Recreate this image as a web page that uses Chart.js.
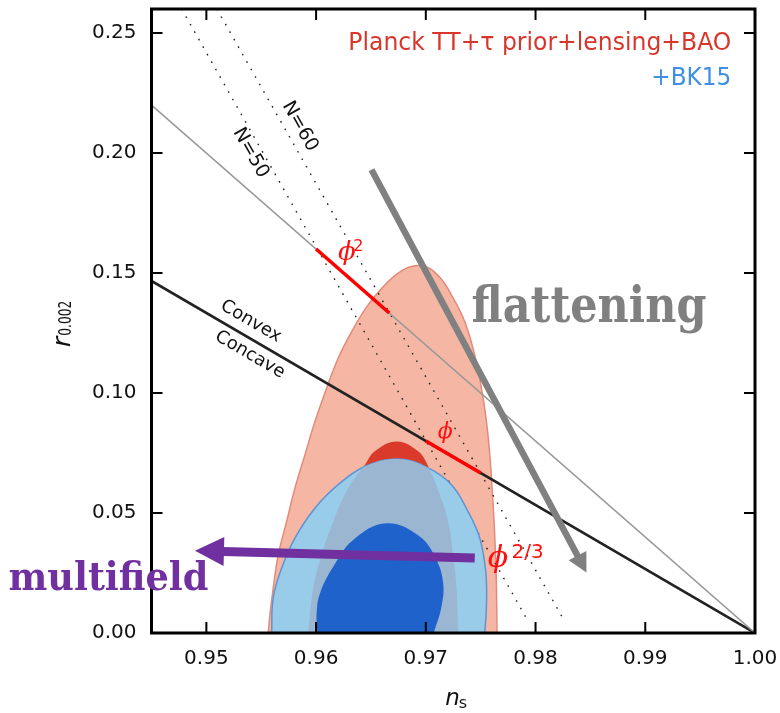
<!DOCTYPE html>
<html><head><meta charset="utf-8">
<script src="https://cdn.jsdelivr.net/npm/chart.js@4/dist/chart.umd.min.js"></script>
<style>html,body{margin:0;padding:0;background:#fff;} canvas{display:block;}</style>
</head><body>
<canvas id="c" width="780" height="713"></canvas>
<script>
// ---------- axis ticks ----------
const nsTicks = [0.95, 0.96, 0.97, 0.98, 0.99, 1.00];
const nsTickLabels = ['0.95', '0.96', '0.97', '0.98', '0.99', '1.00'];
const rTicks = [0.00, 0.05, 0.10, 0.15, 0.20, 0.25];
const rTickLabels = ['0.00', '0.05', '0.10', '0.15', '0.20', '0.25'];

// ---------- contours (n_s, r) ----------
const planck95Ns = [0.95564, 0.95579, 0.95609, 0.95655, 0.95731, 0.95807, 0.95898, 0.95989, 0.96096, 0.96201, 0.96323, 0.96474, 0.96657, 0.96781, 0.96900,
                    0.97018, 0.97137, 0.97234, 0.97355, 0.97446, 0.97507, 0.97553, 0.97583, 0.97604, 0.97622, 0.97635, 0.97644, 0.97649];
const planck95R  = [0.0000, 0.0075, 0.0186, 0.0325, 0.0464, 0.0603, 0.0742, 0.0880, 0.1020, 0.1145, 0.1255, 0.1367, 0.1464, 0.1510, 0.1530,
                    0.1523, 0.1477, 0.1408, 0.1297, 0.1158, 0.1020, 0.0880, 0.0742, 0.0603, 0.0464, 0.0325, 0.0186, 0.0000];
const planck68Ns = [0.95928, 0.95974, 0.96050, 0.96156, 0.96292, 0.96444, 0.96535, 0.96733, 0.96930, 0.97021, 0.97128, 0.97203, 0.97249, 0.97280, 0.97294];
const planck68R  = [0.0000, 0.0186, 0.0325, 0.0464, 0.0603, 0.0700, 0.0757, 0.0798, 0.0757, 0.0695, 0.0576, 0.0464, 0.0325, 0.0186, 0.0000];
const bk95Ns = [0.95595, 0.95609, 0.95686, 0.95807, 0.95989, 0.96201, 0.96444, 0.96748, 0.97021, 0.97234, 0.97385, 0.97492, 0.97546, 0.97553, 0.97537];
const bk95R  = [0.0000, 0.0145, 0.0270, 0.0395, 0.0520, 0.0618, 0.0694, 0.0725, 0.0688, 0.0618, 0.0506, 0.0395, 0.0255, 0.0117, 0.0000];
const bk68Ns = [0.96012, 0.96005, 0.96035, 0.96156, 0.96338, 0.96642, 0.96945, 0.97097, 0.97158, 0.97143, 0.97073];
const bk68R  = [0.0000, 0.0082, 0.0165, 0.0276, 0.0388, 0.0457, 0.0402, 0.0304, 0.0207, 0.0110, 0.0000];

// ---------- model lines ----------
const n50Ns = [0.94775, 0.97932];   const n50R = [0.2600, 0.0049];
const n60Ns = [0.95096, 0.98266];   const n60R = [0.2600, 0.0048];
const grayLineNs = [0.945, 1.000];  const grayLineR = [0.2200, 0.0000];
const convexNs = [0.945, 1.000];    const convexR = [0.14667, 0.0000];
const phi2SegNs = [0.9600, 0.96667]; const phi2SegR = [0.1600, 0.13333];
const phiSegNs = [0.9700, 0.9750];  const phiSegR = [0.0800, 0.06667];

// ---------- arrows ----------
const flatArrowNs = [0.96505, 0.98464];  const flatArrowR = [0.19304, 0.02525];
const multiArrowNs = [0.97446, 0.94896]; const multiArrowR = [0.03125, 0.0343];

const pts = (xs, ys) => xs.map((x, i) => ({x: x, y: ys[i]}));

const datasets = [
  {id:'p95', data: pts(planck95Ns, planck95R), polyFill:'#F5B7A3', borderColor:'#E38A7C', borderWidth:1.5, tension:0.4, order:10},
  {id:'p68', data: pts(planck68Ns, planck68R), polyFill:'#D93A2A', borderWidth:0, tension:0.4, order:9},
  {id:'n50', data: pts(n50Ns, n50R), borderColor:'#222', borderWidth:1.4, borderDash:[1.6, 7], tension:0, order:8},
  {id:'n60', data: pts(n60Ns, n60R), borderColor:'#222', borderWidth:1.4, borderDash:[1.6, 7], tension:0, order:8},
  {id:'gray', data: pts(grayLineNs, grayLineR), borderColor:'#9a9a9a', borderWidth:1.6, tension:0, order:7},
  {id:'conv', data: pts(convexNs, convexR), borderColor:'#222', borderWidth:2.6, tension:0, order:7},
  {id:'phi2', data: pts(phi2SegNs, phi2SegR), borderColor:'#FF0000', borderWidth:3.6, tension:0, order:6},
  {id:'phi', data: pts(phiSegNs, phiSegR), borderColor:'#FF0000', borderWidth:3.6, tension:0, order:6},
  {id:'b95', data: pts(bk95Ns, bk95R), polyFill:'#99CCE9', borderColor:'#5E93D4', borderWidth:1.5, tension:0.4, order:5},
  {id:'b68', data: pts(bk68Ns, bk68R), polyFill:'#2062CB', borderWidth:0, tension:0.4, order:4}
].map(d => Object.assign({showLine:true, pointRadius:0, fill:false}, d));

function dsIndex(chart, id) { return chart.data.datasets.findIndex(d => d.id === id); }

function txt(ctx, s, x, y, o) {
  ctx.save();
  ctx.font = o.font; ctx.fillStyle = o.color || '#000';
  ctx.textAlign = o.align || 'left'; ctx.textBaseline = o.base || 'alphabetic';
  ctx.translate(x, y);
  if (o.rot) ctx.rotate(o.rot);
  if (o.fit) { const w = ctx.measureText(s).width; ctx.scale(o.fit / w, 1); }
  ctx.fillText(s, 0, 0);
  ctx.restore();
}

function arrow(ctx, x0, y0, x1, y1, width, headLen, headHalf, color) {
  const dx = x1 - x0, dy = y1 - y0, L = Math.hypot(dx, dy);
  const ux = dx / L, uy = dy / L, px = -uy, py = ux;
  const bx = x1 - ux * headLen, by = y1 - uy * headLen;
  ctx.save();
  ctx.strokeStyle = color; ctx.fillStyle = color; ctx.lineWidth = width; ctx.lineCap = 'butt';
  ctx.beginPath(); ctx.moveTo(x0, y0); ctx.lineTo(bx + ux, by + uy); ctx.stroke();
  ctx.beginPath(); ctx.moveTo(x1, y1);
  ctx.lineTo(bx + px * headHalf, by + py * headHalf);
  ctx.lineTo(bx - px * headHalf, by - py * headHalf);
  ctx.closePath(); ctx.fill();
  ctx.restore();
}

const SANS = '"DejaVu Sans"';
const SERIF = '"DejaVu Serif"';

const polyPlugin = {
  id: 'poly',
  beforeDatasetDraw(chart, args) {
    const ds = chart.data.datasets[args.index];
    if (!ds.polyFill) return;
    const ctx = chart.ctx, a = chart.chartArea;
    ctx.save();
    ctx.beginPath(); ctx.rect(a.left, a.top, a.right - a.left, a.bottom - a.top); ctx.clip();
    ctx.beginPath(); args.meta.dataset.path(ctx); ctx.closePath();
    ctx.fillStyle = ds.polyFill; ctx.fill();
    ctx.restore();
  },
  afterDatasetDraw(chart, args) {
    const ds = chart.data.datasets[args.index];
    if (ds.id !== 'b95') return;
    // Planck 68% region seen through the BK15 95% region
    const ctx = chart.ctx, a = chart.chartArea;
    const p68 = chart.getDatasetMeta(dsIndex(chart, 'p68')).dataset;
    ctx.save();
    ctx.beginPath(); ctx.rect(a.left, a.top, a.right - a.left, a.bottom - a.top); ctx.clip();
    ctx.beginPath(); args.meta.dataset.path(ctx); ctx.closePath(); ctx.clip();
    ctx.beginPath(); p68.path(ctx); ctx.closePath();
    ctx.fillStyle = '#9BB6D1'; ctx.fill();
    ctx.restore();
  }
};

const decorPlugin = {
  id: 'decor',
  afterDraw(chart) {
    const ctx = chart.ctx, a = chart.chartArea;
    const sx = chart.scales.x, sy = chart.scales.y;
    const X = v => sx.getPixelForValue(v), Y = v => sy.getPixelForValue(v);
    const ang = (xs, ys) => Math.atan2(Y(ys[1]) - Y(ys[0]), X(xs[1]) - X(xs[0]));

    // frame + inward ticks
    ctx.save();
    ctx.strokeStyle = '#000'; ctx.lineWidth = 2;
    ctx.beginPath();
    nsTicks.forEach(v => { const p = X(v); ctx.moveTo(p, a.bottom); ctx.lineTo(p, a.bottom - 11); ctx.moveTo(p, a.top); ctx.lineTo(p, a.top + 11); });
    rTicks.forEach(v => { const p = Y(v); ctx.moveTo(a.left, p); ctx.lineTo(a.left + 11, p); ctx.moveTo(a.right, p); ctx.lineTo(a.right - 11, p); });
    ctx.stroke();
    ctx.lineWidth = 3;
    ctx.strokeRect(a.left, a.top, a.right - a.left, a.bottom - a.top);
    ctx.restore();

    // arrows
    arrow(ctx, X(flatArrowNs[0]), Y(flatArrowR[0]), X(flatArrowNs[1]), Y(flatArrowR[1]), 6.5, 19, 10, '#808080');
    arrow(ctx, X(multiArrowNs[0]), Y(multiArrowR[0]), X(multiArrowNs[1]), Y(multiArrowR[1]), 9, 29, 14.5, '#7030A0');

    // legend texts
    txt(ctx, 'Planck TT+τ prior+lensing+BAO', X(0.99784), Y(0.24304), {font:'24px ' + SANS, color:'#D9362B', align:'right', fit:383});
    txt(ctx, '+BK15', X(0.99784), Y(0.22830), {font:'24px ' + SANS, color:'#3F8FE6', align:'right', fit:80});

    // N labels along dotted lines
    const aN = ang(n50Ns, n50R);
    txt(ctx, 'N=50', X(0.95403), Y(0.2000), {font:'19px ' + SANS, color:'#111', align:'center', base:'middle', rot:aN});
    txt(ctx, 'N=60', X(0.95852), Y(0.21108), {font:'19px ' + SANS, color:'#111', align:'center', base:'middle', rot:aN});

    // convex / concave
    const aC = ang(convexNs, convexR);
    txt(ctx, 'Convex', X(0.95406), Y(0.12983), {font:'18px ' + SANS, color:'#111', align:'center', base:'middle', rot:aC});
    txt(ctx, 'Concave', X(0.95397), Y(0.11596), {font:'18px ' + SANS, color:'#111', align:'center', base:'middle', rot:aC});

    // phi labels
    txt(ctx, 'ϕ', X(0.96199), Y(0.15533), {font:'italic 26px ' + SERIF, color:'#FF1010'});
    txt(ctx, '2', X(0.96338), Y(0.15900), {font:'16px ' + SANS, color:'#FF1010'});
    txt(ctx, 'ϕ', X(0.97109), Y(0.08117), {font:'italic 22px ' + SERIF, color:'#FF1010'});
    txt(ctx, 'ϕ', X(0.97565), Y(0.02763), {font:'italic 30px ' + SERIF, color:'#FF1010'});
    txt(ctx, '2/3', X(0.97781), Y(0.03138), {font:'20px ' + SANS, color:'#FF1010'});

    // annotation words
    txt(ctx, 'flattening', X(0.97416), Y(0.12942), {font:'bold 50px ' + SERIF, color:'#808080', fit:235});
    txt(ctx, 'multifield', X(0.93196), Y(0.01775), {font:'bold 40px ' + SERIF, color:'#7030A0', fit:200});

    // axis titles
    ctx.save();
    ctx.translate(a.left - 81.5, (a.top + a.bottom) / 2 + 26);
    ctx.rotate(-Math.PI / 2);
    ctx.fillStyle = '#111';
    ctx.font = 'italic 25px ' + SANS; ctx.textBaseline = 'alphabetic'; ctx.textAlign = 'left';
    ctx.fillText('r', 0, 0);
    const rw = ctx.measureText('r').width;
    txt(ctx, '0.002', rw + 1, 1, {font:'18px ' + SANS, color:'#111', fit:35});
    ctx.restore();
    const cx = (a.left + a.right) / 2;
    txt(ctx, 'n', cx - 8, a.bottom + 72, {font:'italic 23px ' + SANS, color:'#111'});
    txt(ctx, 's', cx + 5.5, a.bottom + 75, {font:'16px ' + SANS, color:'#111'});
  }
};

new Chart(document.getElementById('c'), {
  type: 'scatter',
  data: { datasets: datasets },
  options: {
    responsive: false, animation: false, devicePixelRatio: 1, events: [],
    layout: { padding: { left: 0, top: 9, right: 25, bottom: 0 } },
    plugins: { legend: { display: false }, tooltip: { enabled: false } },
    scales: {
      x: {
        type: 'linear', min: 0.945, max: 1.0,
        afterBuildTicks: s => { s.ticks = nsTicks.map(v => ({value: v})); },
        afterFit: s => { s.height = 80; s.paddingLeft = 0; s.paddingRight = 0; s.paddingTop = 0; s.paddingBottom = 0; },
        ticks: { callback: (v, i) => nsTickLabels[i], font: { family: 'DejaVu Sans', size: 20 }, color: '#111', padding: 14, maxRotation: 0, autoSkip: false },
        grid: { display: false, drawTicks: false }, border: { display: false }
      },
      y: {
        type: 'linear', min: 0, max: 0.26,
        afterBuildTicks: s => { s.ticks = rTicks.map(v => ({value: v})); },
        afterFit: s => { s.width = 151.5; s.paddingLeft = 0; s.paddingRight = 0; s.paddingTop = 0; s.paddingBottom = 0; },
        ticks: { callback: (v, i) => rTickLabels[i], font: { family: 'DejaVu Sans', size: 20 }, color: '#111', padding: 15, autoSkip: false },
        grid: { display: false, drawTicks: false }, border: { display: false }
      }
    }
  },
  plugins: [polyPlugin, decorPlugin]
});
</script>
</body></html>
